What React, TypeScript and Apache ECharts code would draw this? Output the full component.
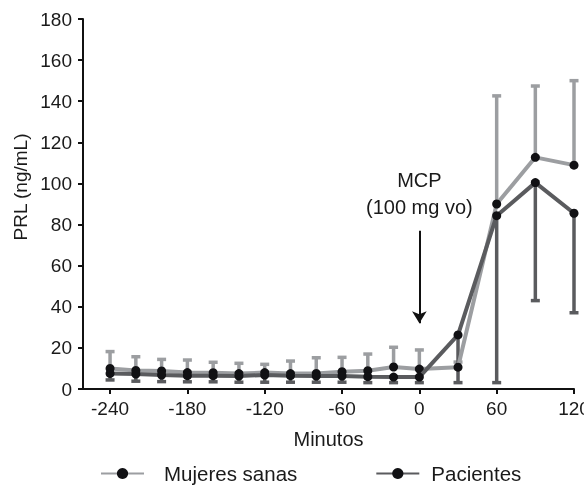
import React, { useEffect, useRef } from "react";
import * as echarts from "echarts";

const minutes = [-240, -220, -200, -180, -160, -140, -120, -100, -80, -60, -40, -20, 0, 30, 60, 90, 120];
const sanasMean = [10.0, 9.0, 8.8, 8.0, 7.9, 7.5, 8.0, 7.5, 7.6, 8.4, 8.9, 10.7, 9.7, 10.6, 90.0, 112.7, 108.9];
const sanasUpper = [18.2, 15.7, 14.4, 14.1, 13.0, 12.5, 12.0, 13.6, 15.2, 15.4, 17.0, 20.3, 19.0, 13.1, 142.6, 147.4, 150.0];
const pacMean = [7.6, 7.3, 6.8, 6.5, 6.5, 6.3, 6.8, 6.5, 6.3, 6.3, 6.0, 5.8, 5.8, 26.3, 84.3, 100.4, 85.5];
const pacLower = [4.4, 3.8, 3.6, 3.5, 3.5, 3.3, 3.3, 3.3, 3.3, 3.3, 3.1, 3.1, 3.1, 3.1, 3.1, 43.0, 37.1];
const xTicks = [-240, -180, -120, -60, 0, 60, 120];
const annotationTime = 0;
const annotationTextValue = 95;
const arrowFrom = 77;
const arrowTo = 32;

const LIGHT = "#9c9ea1";
const DARK = "#5a5b5e";
const DOT = "#111114";
const FONT = "Liberation Sans";

function errorBarSeries(name: string, means: number[], bounds: number[], color: string) {
  return {
    type: "custom",
    name: name + "_err",
    silent: true,
    z: 1,
    data: minutes.map((m, i) => [m, means[i], bounds[i]]),
    renderItem: (params: any, api: any) => {
      const p1 = api.coord([api.value(0), api.value(1)]);
      const p2 = api.coord([api.value(0), api.value(2)]);
      const half = 4.5;
      return {
        type: "group",
        children: [
          { type: "line", shape: { x1: p1[0], y1: p1[1], x2: p2[0], y2: p2[1] }, style: { stroke: color, lineWidth: 3.5 } },
          { type: "line", shape: { x1: p2[0] - half, y1: p2[1], x2: p2[0] + half, y2: p2[1] }, style: { stroke: color, lineWidth: 3.5 } },
        ],
      };
    },
  };
}

export default function App() {
  const ref = useRef<HTMLDivElement>(null);
  useEffect(() => {
    if (!ref.current) return;
    const chart = echarts.init(ref.current, undefined, { renderer: "svg" });
    chart.setOption({
      animation: false,
      textStyle: { fontFamily: FONT },
      grid: { left: 83, right: 10, top: 19, bottom: 96, outerBoundsMode: "none", containLabel: false },
      xAxis: {
        type: "value",
        min: -261,
        max: 120,
        name: "Minutos",
        nameLocation: "middle",
        nameGap: 40,
        nameTextStyle: { fontSize: 20, color: "#1a1a1a", fontFamily: FONT },
        axisLine: { show: true, onZero: false, lineStyle: { color: "#111", width: 2 } },
        axisTick: { show: true, customValues: xTicks, length: 5, lineStyle: { color: "#111", width: 2 } },
        axisLabel: { customValues: xTicks, fontSize: 19, color: "#1a1a1a", margin: 10, fontFamily: FONT },
        splitLine: { show: false },
      },
      yAxis: {
        type: "value",
        min: 0,
        max: 180,
        interval: 20,
        axisLine: { show: true, onZero: false, lineStyle: { color: "#111", width: 2 } },
        axisTick: { show: true, length: 5, lineStyle: { color: "#111", width: 2 } },
        axisLabel: { fontSize: 19, color: "#1a1a1a", margin: 11, fontFamily: FONT },
        splitLine: { show: false },
      },
      legend: {
        left: 100,
        top: 463,
        padding: 0,
        itemWidth: 43,
        itemHeight: 14,
        itemGap: 78,
        textStyle: { fontSize: 20.5, color: "#1a1a1a", fontFamily: FONT },
        data: [
          { name: "Mujeres sanas", textStyle: { padding: [0, 0, 0, 15] } },
          { name: "Pacientes", textStyle: { padding: [0, 0, 0, 7] } },
        ],
      },
      graphic: [
        {
          type: "text",
          x: 20,
          y: 187,
          rotation: Math.PI / 2,
          style: { text: "PRL (ng/mL)", fontSize: 19, fill: "#1a1a1a", fontFamily: FONT, align: "center", verticalAlign: "middle" },
        },
      ],
      series: [
        errorBarSeries("Mujeres sanas", sanasMean, sanasUpper, LIGHT),
        errorBarSeries("Pacientes", pacMean, pacLower, DARK),
        {
          type: "line",
          name: "Mujeres sanas",
          data: minutes.map((m, i) => [m, sanasMean[i]]),
          symbol: "circle",
          symbolSize: 9,
          lineStyle: { color: LIGHT, width: 4 },
          itemStyle: { color: DOT },
          z: 3,
        },
        {
          type: "line",
          name: "Pacientes",
          data: minutes.map((m, i) => [m, pacMean[i]]),
          symbol: "circle",
          symbolSize: 9,
          lineStyle: { color: DARK, width: 4 },
          itemStyle: { color: DOT },
          z: 4,
          markLine: {
            silent: true,
            symbol: ["none", "arrow"],
            symbolSize: [11, 12],
            lineStyle: { color: "#111", width: 2, type: "solid" },
            label: { show: false },
            data: [[{ coord: [annotationTime, arrowFrom] }, { coord: [annotationTime, arrowTo] }]],
          },
          markPoint: {
            silent: true,
            symbol: "circle",
            symbolSize: 0,
            data: [{ coord: [annotationTime, annotationTextValue] }],
            label: {
              show: true,
              position: "inside",
              formatter: "MCP\n(100 mg vo)",
              fontSize: 20,
              lineHeight: 27,
              color: "#1a1a1a",
              fontFamily: FONT,
            },
          },
        },
      ],
    });
    return () => chart.dispose();
  }, []);
  return <div ref={ref} style={{ position: "fixed", left: 0, top: 0, width: 584, height: 485 }} />;
}
